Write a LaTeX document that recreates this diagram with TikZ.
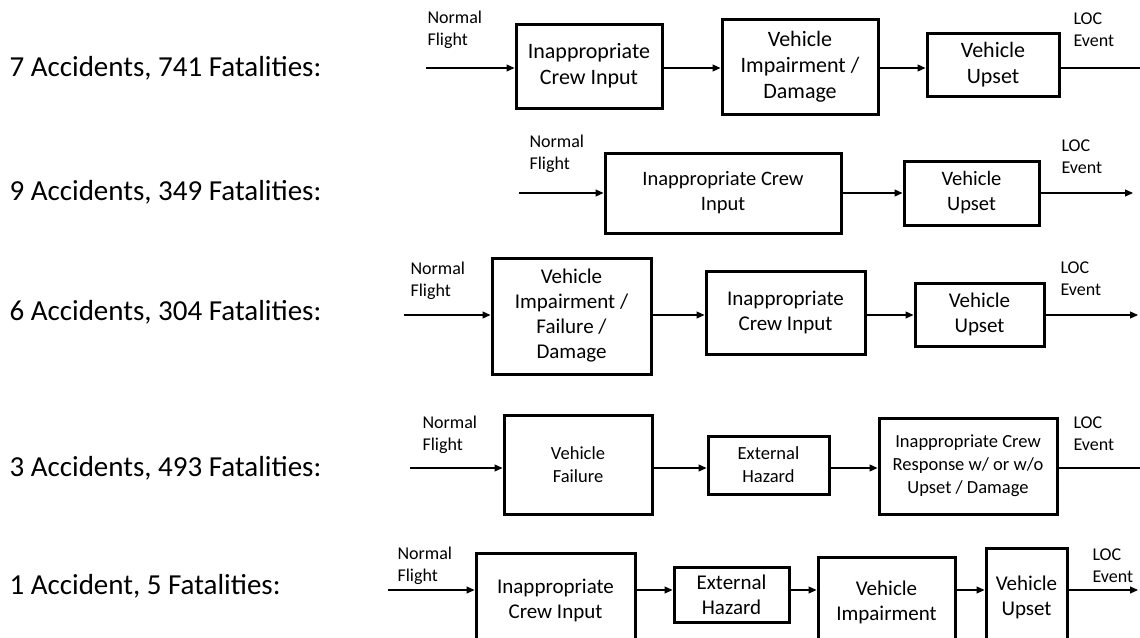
\documentclass[tikz,border=0pt]{standalone}
\usepackage{fontspec}
\setmainfont{Carlito}
\usetikzlibrary{arrows.meta}
\tikzset{blk/.style={draw,line width=3pt,align=center,inner sep=0pt},
  arr/.style={line width=1.1pt,-{Triangle[length=8pt,width=7pt]}},
  ln/.style={line width=1.1pt},
  lbl/.style={anchor=west,font=\fontsize{29}{34}\selectfont},
  sml/.style={anchor=west,align=left,font=\fontsize{18}{22}\selectfont}}
\begin{document}
\begin{tikzpicture}[x=1pt,y=-1pt]
\useasboundingbox (0,0) rectangle (1140,637);\clip (0,0) rectangle (1140,637);
% row 1
\node[lbl] (l1) at (6,68) {7 Accidents, 741 Fatalities:};
\node[sml] (nf1) at (424,30) {Normal\\Flight};\node[sml] (loc1) at (1070,30) {LOC\\Event};
\coordinate (s1) at (426,68);\coordinate (e1) at (1140,68);
\node[blk,font=\fontsize{22}{26}\selectfont,minimum width=146,minimum height=84] (r1a) at (589,66) {Inappropriate\\Crew Input};
\node[blk,font=\fontsize{22}{26}\selectfont,minimum width=156,minimum height=95] (r1b) at (800,66.5) {Vehicle\\Impairment /\\Damage};
\node[blk,font=\fontsize{22}{26}\selectfont,minimum width=132,minimum height=63] (r1c) at (993,64.5) {Vehicle\\Upset};
\draw[arr] (s1)--(s1-|r1a.west);\draw[arr] (r1a.east|-s1)--(r1b.west|-s1);
\draw[arr] (r1b.east|-s1)--(r1c.west|-s1);\draw[ln] (r1c.east|-s1)--(e1);
% row 2
\node[lbl] (l2) at (6,192) {9 Accidents, 349 Fatalities:};
\node[sml] (nf2) at (526,154) {Normal\\Flight};\node[sml] (loc2) at (1058,157) {LOC\\Event};
\coordinate (s2) at (519,193);\coordinate (e2) at (1133,193);
\node[blk,font=\fontsize{20.5}{25}\selectfont,minimum width=236,minimum height=80] (r2a) at (723,193) {Inappropriate Crew\\Input};
\node[blk,font=\fontsize{20.5}{25}\selectfont,minimum width=135,minimum height=64] (r2b) at (971.5,193) {Vehicle\\Upset};
\draw[arr] (s2)--(s2-|r2a.west);\draw[arr] (r2a.east|-s2)--(r2b.west|-s2);
\draw[arr] (r2b.east|-s2)--(e2);
% row 3
\node[lbl] (l3) at (6,312) {6 Accidents, 304 Fatalities:};
\node[sml] (nf3) at (407,281) {Normal\\Flight};\node[sml] (loc3) at (1057,279) {LOC\\Event};
\coordinate (s3) at (404,315);\coordinate (e3) at (1138,315);
\node[blk,font=\fontsize{21}{25}\selectfont,minimum width=159,minimum height=116] (r3a) at (571.5,316) {Vehicle\\Impairment /\\Failure /\\Damage};
\node[blk,font=\fontsize{21}{25}\selectfont,minimum width=159,minimum height=83] (r3b) at (785.5,312.5) {Inappropriate\\Crew Input};
\node[blk,font=\fontsize{21}{25}\selectfont,minimum width=129,minimum height=63] (r3c) at (979.5,314.5) {Vehicle\\Upset};
\draw[arr] (s3)--(s3-|r3a.west);\draw[arr] (r3a.east|-s3)--(r3b.west|-s3);
\draw[arr] (r3b.east|-s3)--(r3c.west|-s3);\draw[arr] (r3c.east|-s3)--(e3);
% row 4
\node[lbl] (l4) at (6,468) {3 Accidents, 493 Fatalities:};
\node[sml] (nf4) at (419,435) {Normal\\Flight};\node[sml] (loc4) at (1070,434) {LOC\\Event};
\coordinate (s4) at (410,468);\coordinate (e4) at (1140,468);
\node[blk,font=\fontsize{18.5}{23}\selectfont,minimum width=148,minimum height=99] (r4a) at (578,464.5) {Vehicle\\Failure};
\node[blk,font=\fontsize{18.5}{23}\selectfont,minimum width=121,minimum height=58] (r4b) at (768.5,465) {External\\Hazard};
\node[blk,font=\fontsize{18.5}{23}\selectfont,minimum width=178,minimum height=96] (r4c) at (968,466) {Inappropriate Crew\\Response w/ or w/o\\Upset / Damage};
\draw[arr] (s4)--(s4-|r4a.west);\draw[arr] (r4a.east|-s4)--(r4b.west|-s4);
\draw[arr] (r4b.east|-s4)--(r4c.west|-s4);\draw[ln] (r4c.east|-s4)--(e4);
% row 5
\node[lbl] (l5) at (6,586) {1 Accident, 5 Fatalities:};
\node[sml] (nf5) at (394,566) {Normal\\Flight};\node[sml] (loc5) at (1089,566) {LOC\\Event};
\coordinate (s5) at (388,590);\coordinate (e5) at (1138,590);
\node[blk,font=\fontsize{21}{25}\selectfont,minimum width=159,minimum height=93] (r5a) at (555.5,600) {Inappropriate\\Crew Input};
\node[blk,font=\fontsize{21}{25}\selectfont,minimum width=115,minimum height=55] (r5b) at (731.5,595) {External\\Hazard};
\node[blk,font=\fontsize{21}{25}\selectfont,minimum width=137,minimum height=89] (r5c) at (886.5,602) {Vehicle\\Impairment};
\node[blk,font=\fontsize{21}{25}\selectfont,minimum width=81,minimum height=98] (r5d) at (1026.5,597) {Vehicle\\Upset};
\draw[arr] (s5)--(s5-|r5a.west);\draw[arr] (r5a.east|-s5)--(r5b.west|-s5);
\draw[arr] (r5b.east|-s5)--(r5c.west|-s5);\draw[arr] (r5c.east|-s5)--(r5d.west|-s5);
\draw[arr] (r5d.east|-s5)--(e5);
\end{tikzpicture}
\end{document}
